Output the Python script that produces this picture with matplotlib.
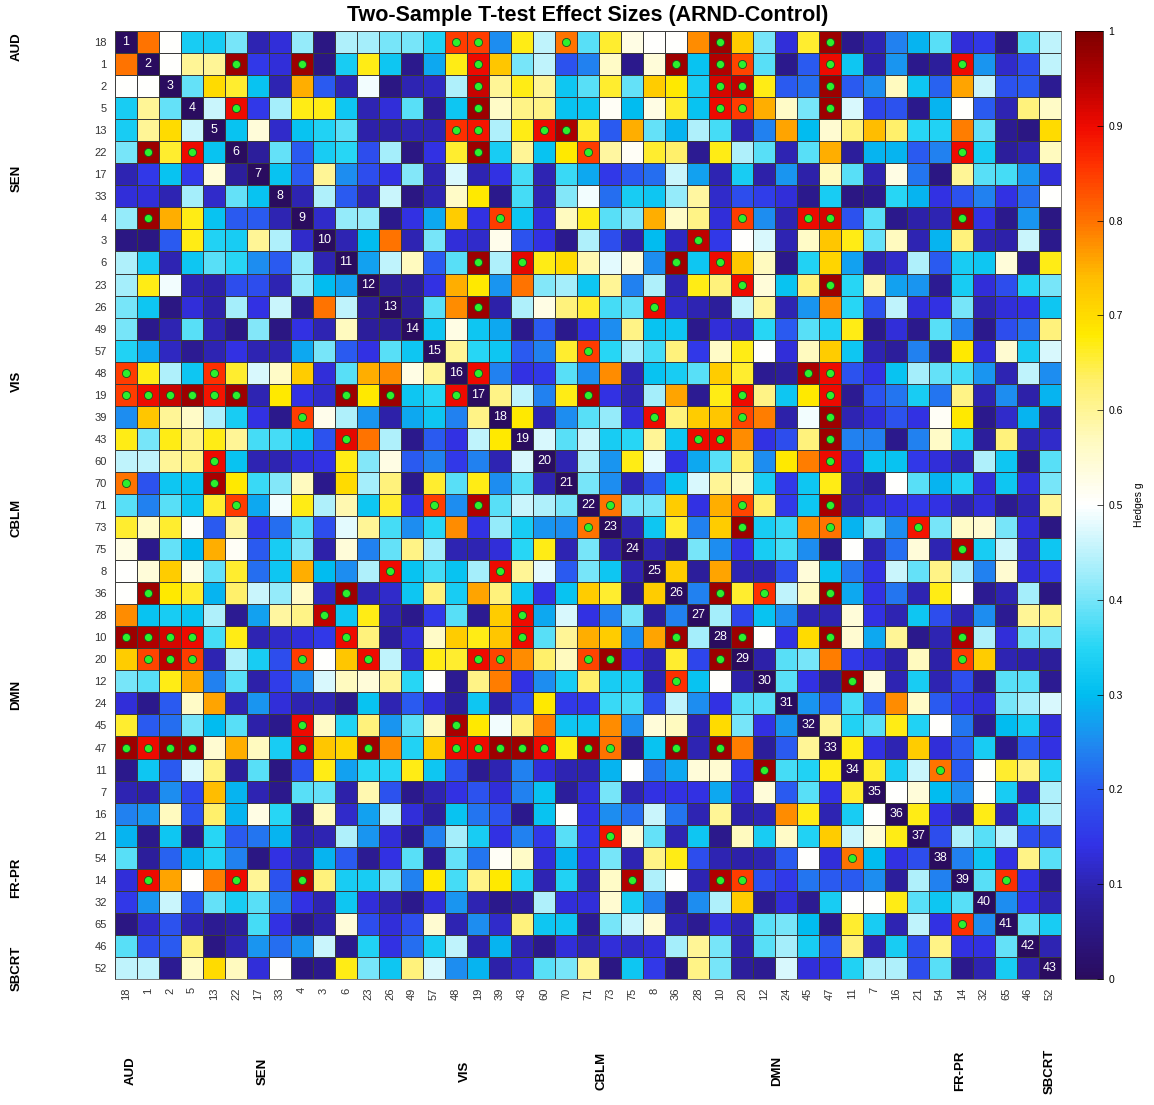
import numpy as np
import matplotlib
matplotlib.use("Agg")
import matplotlib.pyplot as plt
from matplotlib.colors import LinearSegmentedColormap

plt.rcParams['font.family'] = ['Liberation Sans', 'DejaVu Sans']

# ROI labels (rows top->bottom, columns left->right)
labels = [18, 1, 2, 5, 13, 22, 17, 33, 4, 3, 6, 23, 26, 49, 57, 48, 19, 39, 43, 60,
          70, 71, 73, 75, 8, 36, 28, 10, 20, 12, 24, 45, 47, 11, 7, 16, 21, 54, 14, 32,
          65, 46, 52]

group_names = ['AUD', 'SEN', 'VIS', 'CBLM', 'DMN', 'FR-PR', 'SBCRT']

# upper triangle of the (symmetric) Hedges g matrix, row r holds columns r+1..42
upper = [
    [0.80, 0.50, 0.33, 0.33, 0.40, 0.10, 0.13, 0.42, 0.05, 0.44, 0.43, 0.40, 0.40, 0.34,
     0.85, 0.85, 0.25, 0.67, 0.45, 0.80, 0.38, 0.66, 0.53, 0.50, 0.50, 0.78, 0.97, 0.72,
     0.40, 0.13, 0.66, 0.97, 0.06, 0.10, 0.24, 0.29, 0.38, 0.13, 0.15, 0.05, 0.38, 0.45],
    [0.50, 0.60, 0.60, 0.97, 0.15, 0.13, 0.97, 0.05, 0.33, 0.67, 0.32, 0.06, 0.28,
     0.67, 0.90, 0.73, 0.40, 0.45, 0.19, 0.24, 0.56, 0.06, 0.54, 0.97, 0.31, 0.95, 0.84,
     0.38, 0.06, 0.20, 0.90, 0.32, 0.09, 0.26, 0.06, 0.08, 0.90, 0.26, 0.12, 0.18, 0.45],
    [0.39, 0.70, 0.66, 0.31, 0.10, 0.75, 0.20, 0.10, 0.49, 0.05, 0.10, 0.11,
     0.44, 0.93, 0.60, 0.67, 0.60, 0.32, 0.38, 0.66, 0.39, 0.72, 0.68, 0.33, 0.92, 0.94,
     0.67, 0.20, 0.22, 0.97, 0.20, 0.25, 0.57, 0.32, 0.21, 0.76, 0.46, 0.19, 0.20, 0.07],
    [0.46, 0.90, 0.15, 0.43, 0.67, 0.67, 0.32, 0.10, 0.13, 0.38, 0.07,
     0.32, 0.97, 0.56, 0.61, 0.61, 0.31, 0.32, 0.51, 0.30, 0.53, 0.66, 0.31, 0.90, 0.85,
     0.75, 0.56, 0.40, 0.97, 0.47, 0.17, 0.19, 0.06, 0.29, 0.50, 0.20, 0.10, 0.62, 0.56],
    [0.31, 0.54, 0.12, 0.31, 0.34, 0.38, 0.09, 0.09, 0.10, 0.10,
     0.86, 0.89, 0.44, 0.67, 0.90, 0.96, 0.66, 0.20, 0.75, 0.39, 0.29, 0.44, 0.37, 0.10,
     0.24, 0.76, 0.30, 0.55, 0.62, 0.74, 0.63, 0.35, 0.34, 0.79, 0.39, 0.07, 0.05, 0.70],
    [0.08, 0.39, 0.20, 0.33, 0.35, 0.18, 0.43, 0.05, 0.14,
     0.66, 0.97, 0.33, 0.60, 0.31, 0.68, 0.85, 0.59, 0.51, 0.66, 0.63, 0.07, 0.67, 0.44,
     0.38, 0.10, 0.38, 0.75, 0.08, 0.29, 0.29, 0.20, 0.24, 0.90, 0.33, 0.08, 0.10, 0.57],
    [0.31, 0.20, 0.60, 0.25, 0.18, 0.14, 0.41, 0.10,
     0.47, 0.10, 0.14, 0.37, 0.10, 0.36, 0.28, 0.15, 0.20, 0.22, 0.46, 0.27, 0.10, 0.33,
     0.09, 0.26, 0.09, 0.57, 0.38, 0.10, 0.53, 0.23, 0.05, 0.60, 0.38, 0.37, 0.26, 0.13],
    [0.10, 0.44, 0.20, 0.10, 0.46, 0.05, 0.10,
     0.56, 0.68, 0.06, 0.37, 0.10, 0.41, 0.49, 0.22, 0.33, 0.32, 0.42, 0.59, 0.12, 0.18,
     0.16, 0.13, 0.06, 0.33, 0.05, 0.06, 0.35, 0.29, 0.14, 0.19, 0.24, 0.14, 0.22, 0.50],
    [0.12, 0.42, 0.42, 0.06, 0.14, 0.28,
     0.72, 0.14, 0.85, 0.32, 0.13, 0.57, 0.67, 0.38, 0.41, 0.75, 0.56, 0.61, 0.13, 0.85,
     0.25, 0.10, 0.90, 0.92, 0.19, 0.38, 0.06, 0.09, 0.10, 0.95, 0.14, 0.06, 0.26, 0.05],
    [0.10, 0.30, 0.80, 0.10, 0.40,
     0.13, 0.12, 0.52, 0.19, 0.14, 0.06, 0.44, 0.18, 0.09, 0.30, 0.11, 0.94, 0.15, 0.50,
     0.47, 0.10, 0.56, 0.73, 0.67, 0.39, 0.57, 0.10, 0.29, 0.62, 0.10, 0.09, 0.46, 0.06],
    [0.27, 0.45, 0.57, 0.20,
     0.38, 0.97, 0.44, 0.91, 0.67, 0.70, 0.58, 0.48, 0.54, 0.25, 0.97, 0.32, 0.90, 0.73,
     0.57, 0.06, 0.34, 0.71, 0.27, 0.09, 0.12, 0.44, 0.20, 0.33, 0.32, 0.54, 0.06, 0.67],
    [0.08, 0.08, 0.14,
     0.75, 0.68, 0.26, 0.80, 0.41, 0.43, 0.32, 0.60, 0.24, 0.44, 0.10, 0.67, 0.62, 0.90,
     0.54, 0.31, 0.62, 0.97, 0.35, 0.58, 0.27, 0.26, 0.07, 0.33, 0.13, 0.18, 0.34, 0.40],
    [0.08, 0.38,
     0.78, 0.97, 0.09, 0.44, 0.53, 0.62, 0.66, 0.37, 0.39, 0.90, 0.12, 0.10, 0.08, 0.45,
     0.60, 0.10, 0.26, 0.78, 0.35, 0.19, 0.45, 0.13, 0.14, 0.40, 0.10, 0.13, 0.14, 0.32],
    [0.32,
     0.53, 0.32, 0.28, 0.06, 0.20, 0.06, 0.14, 0.25, 0.61, 0.31, 0.32, 0.06, 0.13, 0.12,
     0.35, 0.20, 0.38, 0.34, 0.67, 0.06, 0.13, 0.06, 0.38, 0.24, 0.06, 0.18, 0.22, 0.62],
    [0.60, 0.35, 0.32, 0.20, 0.24, 0.66, 0.85, 0.35, 0.43, 0.37, 0.62, 0.15, 0.56, 0.67,
     0.50, 0.13, 0.57, 0.72, 0.32, 0.10, 0.08, 0.24, 0.07, 0.68, 0.13, 0.55, 0.33, 0.47],
    [0.90, 0.24, 0.14, 0.15, 0.38, 0.25, 0.78, 0.10, 0.31, 0.33, 0.38, 0.72, 0.66,
     0.07, 0.08, 0.96, 0.90, 0.19, 0.14, 0.31, 0.43, 0.39, 0.37, 0.26, 0.10, 0.45, 0.25],
    [0.61, 0.45, 0.24, 0.67, 0.95, 0.14, 0.10, 0.43, 0.76, 0.07, 0.67, 0.90,
     0.61, 0.32, 0.68, 0.90, 0.07, 0.19, 0.23, 0.33, 0.23, 0.61, 0.10, 0.25, 0.09, 0.29],
    [0.68, 0.10, 0.25, 0.38, 0.42, 0.13, 0.90, 0.62, 0.72, 0.73, 0.84,
     0.79, 0.09, 0.49, 0.97, 0.10, 0.13, 0.19, 0.14, 0.51, 0.68, 0.06, 0.12, 0.29, 0.09],
    [0.47, 0.38, 0.46, 0.33, 0.35, 0.60, 0.32, 0.90, 0.90, 0.78,
     0.14, 0.18, 0.62, 0.97, 0.24, 0.24, 0.06, 0.24, 0.56, 0.34, 0.08, 0.62, 0.10, 0.12],
    [0.10, 0.44, 0.26, 0.67, 0.48, 0.14, 0.28, 0.38, 0.63,
     0.25, 0.68, 0.79, 0.90, 0.13, 0.31, 0.31, 0.15, 0.13, 0.10, 0.44, 0.32, 0.06, 0.38],
    [0.40, 0.25, 0.10, 0.20, 0.31, 0.47, 0.60, 0.57,
     0.33, 0.15, 0.32, 0.67, 0.10, 0.08, 0.50, 0.38, 0.29, 0.34, 0.13, 0.32, 0.13, 0.40],
    [0.80, 0.40, 0.40, 0.72, 0.14, 0.75, 0.84,
     0.63, 0.15, 0.32, 0.96, 0.10, 0.13, 0.14, 0.15, 0.14, 0.10, 0.13, 0.07, 0.10, 0.60],
    [0.10, 0.32, 0.66, 0.24, 0.72, 0.97,
     0.33, 0.36, 0.78, 0.80, 0.29, 0.40, 0.25, 0.89, 0.40, 0.56, 0.55, 0.40, 0.13, 0.05],
    [0.10, 0.06, 0.40, 0.25, 0.14,
     0.33, 0.37, 0.25, 0.06, 0.50, 0.10, 0.22, 0.54, 0.10, 0.95, 0.33, 0.46, 0.12, 0.32],
    [0.72, 0.08, 0.76, 0.10,
     0.10, 0.18, 0.54, 0.31, 0.23, 0.14, 0.46, 0.39, 0.61, 0.44, 0.24, 0.55, 0.13, 0.15],
    [0.24, 0.97, 0.66,
     0.86, 0.45, 0.57, 0.97, 0.28, 0.14, 0.23, 0.10, 0.67, 0.50, 0.07, 0.10, 0.43, 0.05],
    [0.43, 0.17,
     0.31, 0.25, 0.10, 0.10, 0.54, 0.14, 0.10, 0.32, 0.18, 0.10, 0.25, 0.07, 0.60, 0.61],
    [0.97, 0.50, 0.14, 0.70, 0.97, 0.55, 0.28, 0.60, 0.06, 0.10, 0.95, 0.44, 0.13, 0.40, 0.40],
    [0.09, 0.38, 0.40, 0.79, 0.15, 0.13, 0.09, 0.57, 0.09, 0.85, 0.72, 0.10, 0.09, 0.08],
    [0.38, 0.14, 0.08, 0.97, 0.54, 0.10, 0.33, 0.10, 0.18, 0.07, 0.38, 0.38, 0.07],
    [0.26, 0.20, 0.37, 0.20, 0.78, 0.56, 0.20, 0.15, 0.13, 0.40, 0.43, 0.47],
    [0.60, 0.34, 0.38, 0.67, 0.34, 0.50, 0.23, 0.07, 0.30, 0.33, 0.13],
    [0.67, 0.14, 0.10, 0.72, 0.13, 0.20, 0.33, 0.06, 0.20, 0.14],
    [0.66, 0.33, 0.46, 0.80, 0.20, 0.50, 0.66, 0.62, 0.34],
    [0.50, 0.54, 0.30, 0.25, 0.50, 0.33, 0.10, 0.44],
    [0.67, 0.14, 0.08, 0.67, 0.10, 0.33, 0.44],
    [0.18, 0.44, 0.38, 0.45, 0.18, 0.18],
    [0.24, 0.32, 0.14, 0.61, 0.38],
    [0.38, 0.86, 0.14, 0.06],
    [0.25, 0.14, 0.10],
    [0.39, 0.33],
    [0.10],
]

# significant pairs (row, col), upper triangle, marked with a green dot
sig_pairs = [
    (0, 15), (0, 16), (0, 20), (0, 27), (0, 32),
    (1, 5), (1, 8), (1, 16), (1, 25), (1, 27), (1, 28), (1, 32), (1, 38),
    (2, 16), (2, 27), (2, 28), (2, 32),
    (3, 5), (3, 16), (3, 27), (3, 28), (3, 32),
    (4, 15), (4, 16), (4, 19), (4, 20),
    (5, 16), (5, 21), (5, 38),
    (8, 17), (8, 28), (8, 31), (8, 32), (8, 38),
    (9, 26),
    (10, 16), (10, 18), (10, 25), (10, 27),
    (11, 28), (11, 32),
    (12, 16), (12, 24),
    (14, 21),
    (15, 16), (15, 31), (15, 32),
    (16, 21), (16, 28), (16, 32),
    (17, 24), (17, 28), (17, 32),
    (18, 26), (18, 27), (18, 32),
    (19, 32),
    (21, 22), (21, 28), (21, 32),
    (22, 28), (22, 32), (22, 36),
    (23, 38),
    (25, 27), (25, 29), (25, 32),
    (27, 28), (27, 32), (27, 38),
    (28, 38),
    (29, 33), (33, 37), (38, 40),
]

n = len(labels)
M = np.zeros((n, n))
for r, row in enumerate(upper):
    M[r, r + 1:] = row
M = M + M.T

cmap = LinearSegmentedColormap.from_list('hedges', [
    (0.00, '#2a0c5f'), (0.08, '#2c1e9c'), (0.14, '#3232e6'), (0.20, '#2a5af0'),
    (0.25, '#1e8cf0'), (0.30, '#00bef0'), (0.35, '#28d6f5'), (0.42, '#96ebfa'),
    (0.50, '#ffffff'), (0.57, '#fffabe'), (0.63, '#fff06e'), (0.68, '#ffeb00'),
    (0.74, '#ffbe00'), (0.80, '#ff7300'), (0.86, '#ff3200'), (0.90, '#f00a00'),
    (0.95, '#b40000'), (1.00, '#800000')])

fig = plt.figure(figsize=(11.54, 11.05), dpi=100)
ax = fig.add_axes([115 / 1154, 1 - 979 / 1105, 946 / 1154, 948 / 1105])

edges = np.arange(n + 1) - 0.5
mesh = ax.pcolormesh(edges, edges, M, cmap=cmap, vmin=0, vmax=1,
                     edgecolors='#3a3a3a', linewidth=0.4)
ax.set_xlim(-0.5, n - 0.5)
ax.set_ylim(n - 0.5, -0.5)

for i in range(n):
    ax.text(i, i, str(i + 1), color='white', ha='center', va='center', fontsize=9)

rr = [p[0] for p in sig_pairs] + [p[1] for p in sig_pairs]
cc = [p[1] for p in sig_pairs] + [p[0] for p in sig_pairs]
ax.scatter(cc, rr, s=34, c='#2cf02c', edgecolors='#1f4d1f', linewidths=0.6, zorder=3)

ax.set_xticks(range(n))
ax.set_xticklabels([str(l) for l in labels], rotation=90, fontsize=8, color='#333333')
ax.set_yticks(range(n))
ax.set_yticklabels([str(l) for l in labels], fontsize=8, color='#333333')
ax.tick_params(length=0, pad=6)
for s in ax.spines.values():
    s.set_linewidth(0.5)
    s.set_color('#444444')

group_pos = [0.2, 6.2, 15.4, 21.6, 29.6, 37.9, 42.0]
for name, pos in zip(group_names, group_pos):
    ax.text(-0.104, pos, name, transform=ax.get_yaxis_transform(), rotation=90,
            ha='center', va='center', fontsize=9.5, fontweight='bold')
    ax.text(pos, -0.097, name, transform=ax.get_xaxis_transform(), rotation=90,
            ha='center', va='center', fontsize=9.5, fontweight='bold')

cax = fig.add_axes([1075 / 1154, 1 - 979 / 1105, 28 / 1154, 948 / 1105])
cb = fig.colorbar(mesh, cax=cax, ticks=np.arange(0, 1.01, 0.1))
cb.ax.set_yticklabels(['0', '0.1', '0.2', '0.3', '0.4', '0.5', '0.6', '0.7', '0.8', '0.9', '1'])
cb.ax.tick_params(direction='in', length=4, width=0.5, labelsize=7.5, pad=4)
cb.outline.set_linewidth(0.5)
cb.set_label('Hedges g', fontsize=7.5, labelpad=8)

fig.text(588 / 1154, 1 - 16 / 1105, 'Two-Sample T-test Effect Sizes (ARND-Control)',
         ha='center', va='center', fontsize=15.5, fontweight='bold')

fig.savefig('out.png', dpi=100)
